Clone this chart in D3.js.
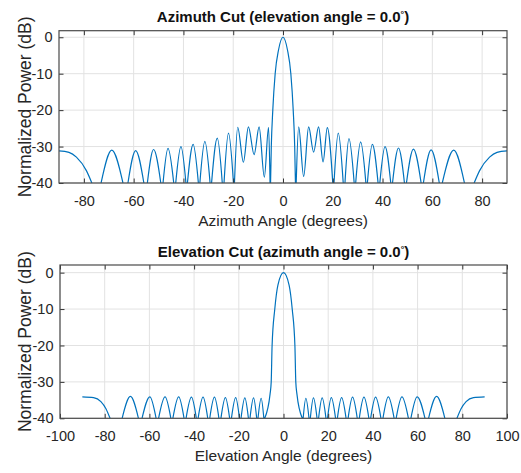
<!DOCTYPE html>
<html>
<head>
<meta charset="utf-8">
<script src="https://cdn.jsdelivr.net/npm/d3@7"></script>
<style>
  body { margin: 0; background: #fff; }
  svg { display: block; font-family: "Liberation Sans", Arial, sans-serif; }
</style>
</head>
<body>
<svg id="chart" width="521" height="473"></svg>
<script>
// azimuth cut: angle (deg) and normalized power (dB); null = curve is below the -40 dB floor
const azAngle = [
  -90, -86, -83, -79, -76.8, -75,
  -73.1, -68.8, -64.3, -63.3,
  -62.3, -59.2, -55.9, -55.2,
  -54.5, -52.0, -49.1, -48.6,
  -48.2, -46.2, -43.9, -43.5,
  -43.1, -41.0, -39.0, -38.7,
  -38.4, -36.1, -34.0, -33.7,
  -33.4, -31.4, -29.3, -29.0,
  -28.7, -26.4, -24.4, -24.0,
  -23.7, -21.9, -19.9, -19.7,
  -19.5, -18.2, -15.9, -13.9, -11.6, -9.6, -7.5, -5.8, -5.2, -5.1,
  -5.0, -4.7, -4.1, -3.15, -1.8, 0, 1.8, 3.15, 4.1, 4.7, 5.0, 5.1,
  5.3, 6.3, 8.3, 10.3, 12.3, 14.3, 16.1, 17.8, 20.0, 20.2,
  20.5, 22.2, 24.2, 24.6,
  24.9, 26.5, 28.6, 28.9,
  29.2, 31.2, 33.3, 33.6,
  33.9, 35.9, 38.2, 38.5,
  38.9, 41.0, 43.3, 43.6,
  44.0, 46.4, 48.8, 49.2,
  49.6, 52.4, 55.5, 56.0,
  56.4, 59.5, 62.8, 63.4,
  64.0, 68.6, 72.9, 74.8,
  76.8, 79, 83, 86, 90
];
const azPower = [
  -31.2, -31.6, -32.9, -36.6, -40, null,
  -40, -31.0, -40, null,
  -40, -31.1, -40, null,
  -40, -30.8, -40, null,
  -40, -30.5, -40, null,
  -40, -30.0, -40, null,
  -40, -29.4, -40, null,
  -40, -28.6, -40, null,
  -40, -27.7, -40, null,
  -40, -26.3, -40, null,
  -40, -24.7, -34.3, -24.6, -32.2, -24.6, -38.4, -24.7, -40, null,
  -40, -30, -20, -10, -3.5, 0, -3.5, -10, -20, -30, -40, null,
  -40, -24.6, -38.2, -24.6, -31.5, -24.6, -34.2, -24.8, -40, null,
  -40, -26.3, -40, null,
  -40, -27.8, -40, null,
  -40, -28.7, -40, null,
  -40, -29.4, -40, null,
  -40, -30.0, -40, null,
  -40, -30.4, -40, null,
  -40, -30.7, -40, null,
  -40, -30.9, -40, null,
  -40, -31.0, -40, null,
  -40, -36.6, -32.9, -31.6, -31.2
];

// elevation cut
const elAngle = [
  -90, -85, -81.7, -79.5, -77.6, -75,
  -72.2, -68.5, -64.9, -64.2,
  -63.3, -59.8, -57.0, -56.4,
  -55.9, -53.0, -50.4, -50.0,
  -49.5, -46.9, -44.5, -44.1,
  -43.6, -41.2, -39.0, -38.6,
  -38.2, -36.0, -33.9, -33.5,
  -33.0, -30.9, -28.9, -28.5,
  -28.0, -26.0, -24.1, -23.7,
  -23.3, -21.4, -19.7, -19.4,
  -19.0, -17.3, -15.7, -15.4,
  -15.0, -13.4, -12.0, -11.7,
  -11.4, -10.0, -8.8, -8.6,
  -8.4, -6.0, -5.5, -5.1, -3.9, -2.5, 0, 2.5, 3.9, 5.1, 5.5, 6.0, 8.4, 8.6,
  8.8, 10.0, 11.4, 11.7,
  12.0, 13.4, 15.0, 15.4,
  15.7, 17.3, 19.0, 19.4,
  19.7, 21.4, 23.3, 23.7,
  24.1, 26.0, 28.0, 28.5,
  28.9, 30.9, 33.0, 33.5,
  33.9, 36.0, 38.2, 38.6,
  39.0, 41.2, 43.6, 44.1,
  44.5, 46.9, 49.5, 50.0,
  50.4, 53.0, 55.9, 56.4,
  57.0, 59.8, 63.3, 64.2,
  64.9, 68.5, 72.2, 75,
  77.6, 79.5, 81.7, 85, 90
];
const elPower = [
  -34.1, -34.3, -35.4, -37.3, -40, null,
  -40, -34.0, -40, null,
  -40, -34.1, -40, null,
  -40, -34.1, -40, null,
  -40, -34.1, -40, null,
  -40, -34.2, -40, null,
  -40, -34.2, -40, null,
  -40, -34.2, -40, null,
  -40, -34.3, -40, null,
  -40, -34.3, -40, null,
  -40, -34.4, -40, null,
  -40, -34.4, -40, null,
  -40, -34.5, -40, null,
  -40, -33.3, -30, -20, -10, -3.4, 0, -3.4, -10, -20, -30, -33.3, -40, null,
  -40, -34.5, -40, null,
  -40, -34.4, -40, null,
  -40, -34.4, -40, null,
  -40, -34.3, -40, null,
  -40, -34.3, -40, null,
  -40, -34.2, -40, null,
  -40, -34.2, -40, null,
  -40, -34.2, -40, null,
  -40, -34.1, -40, null,
  -40, -34.1, -40, null,
  -40, -34.1, -40, null,
  -40, -34.0, -40, null,
  -40, -37.3, -35.4, -34.3, -34.1
];

const azTicks = [-80, -60, -40, -20, 0, 20, 40, 60, 80];
const elTicks = [-100, -80, -60, -40, -20, 0, 20, 40, 60, 80, 100];
const powerTicks = [-40, -30, -20, -10, 0];

const svg = d3.select("#chart");
const lineColor = "#0072bd";

function drawPanel(p) {
  const x = d3.scaleLinear().domain(p.xDomain).range([p.left, p.right]);
  const y = d3.scaleLinear().domain(p.yDomain).range([p.bottom, p.top]);
  const g = svg.append("g");

  // grid
  g.append("g").selectAll("line.gx")
    .data(p.xTicks)
    .enter()
    .append("line")
    .attr("x1", d => x(d)).attr("x2", d => x(d))
    .attr("y1", p.top).attr("y2", p.bottom)
    .attr("stroke", "#e2e2e2").attr("stroke-width", 1);
  g.append("g").selectAll("line.gy")
    .data(powerTicks)
    .enter()
    .append("line")
    .attr("x1", p.left).attr("x2", p.right)
    .attr("y1", d => y(d)).attr("y2", d => y(d))
    .attr("stroke", "#e2e2e2").attr("stroke-width", 1);

  // curve
  const clipId = "clip" + p.id;
  svg.append("clipPath").attr("id", clipId)
    .append("rect")
    .attr("x", p.left).attr("y", p.top)
    .attr("width", p.right - p.left).attr("height", p.bottom - p.top);

  const pts = p.angle.map((a, i) => ({a: a, v: p.power[i]}));
  const line = d3.line()
    .defined(d => d.v !== null)
    .x(d => x(d.a))
    .y(d => y(d.v))
    .curve(d3.curveMonotoneX);

  g.append("path")
    .datum(pts)
    .attr("clip-path", `url(#${clipId})`)
    .attr("fill", "none")
    .attr("stroke", lineColor)
    .attr("stroke-width", 1.2)
    .attr("d", line);

  // axes (inward ticks on all four sides)
  const fmt = d => String(d);
  const xb = g.append("g").attr("transform", `translate(0,${p.bottom})`)
    .call(d3.axisBottom(x).tickValues(p.xTicks).tickFormat(fmt).tickSizeInner(-4.5).tickSizeOuter(0).tickPadding(12.5));
  const xt = g.append("g").attr("transform", `translate(0,${p.top})`)
    .call(d3.axisTop(x).tickValues(p.xTicks).tickFormat("").tickSizeInner(-4.5).tickSizeOuter(0));
  const yl = g.append("g").attr("transform", `translate(${p.left},0)`)
    .call(d3.axisLeft(y).tickValues(powerTicks).tickFormat(fmt).tickSizeInner(-4.5).tickSizeOuter(0).tickPadding(6.5));
  const yr = g.append("g").attr("transform", `translate(${p.right},0)`)
    .call(d3.axisRight(y).tickValues(powerTicks).tickFormat("").tickSizeInner(-4.5).tickSizeOuter(0));

  [xb, xt, yl, yr].forEach(a => {
    a.select(".domain").remove();
    a.selectAll(".tick line").attr("stroke", "#333");
    a.selectAll("text")
      .attr("fill", "#262626")
      .style("font-size", "14.5px")
      .style("font-family", "'Liberation Sans', Arial, sans-serif");
  });

  g.append("rect")
    .attr("x", p.left).attr("y", p.top)
    .attr("width", p.right - p.left).attr("height", p.bottom - p.top)
    .attr("fill", "none").attr("stroke", "#4a4a4a").attr("stroke-width", 1.2);

  // title
  const t = g.append("text")
    .attr("x", (p.left + p.right) / 2)
    .attr("y", p.top - 8.5)
    .attr("text-anchor", "middle")
    .style("font-size", "15px").style("font-weight", "bold")
    .attr("fill", "#111");
  t.append("tspan").text(p.title);
  t.append("tspan").attr("dy", -5).style("font-size", "9px").text("°");
  t.append("tspan").attr("dy", 5).text(")");

  // x label
  g.append("text")
    .attr("x", (p.left + p.right) / 2)
    .attr("y", p.bottom + 42.5)
    .attr("text-anchor", "middle")
    .style("font-size", "15.5px")
    .attr("fill", "#262626")
    .text(p.xLabel);

  // y label
  g.append("text")
    .attr("transform", `translate(31,${(p.top + p.bottom) / 2}) rotate(-90)`)
    .attr("text-anchor", "middle")
    .style("font-size", "17.5px")
    .attr("fill", "#262626")
    .text("Normalized Power (dB)");
}

drawPanel({
  id: "az", left: 59, right: 507, top: 30.7, bottom: 183,
  xDomain: [-90, 90], yDomain: [-40, 1.8], xTicks: azTicks,
  angle: azAngle, power: azPower,
  title: "Azimuth Cut (elevation angle = 0.0",
  xLabel: "Azimuth Angle (degrees)"
});

drawPanel({
  id: "el", left: 60, right: 507, top: 265, bottom: 418.3,
  xDomain: [-100, 100], yDomain: [-40, 2.1], xTicks: elTicks,
  angle: elAngle, power: elPower,
  title: "Elevation Cut (azimuth angle = 0.0",
  xLabel: "Elevation Angle (degrees)"
});
</script>
</body>
</html>
